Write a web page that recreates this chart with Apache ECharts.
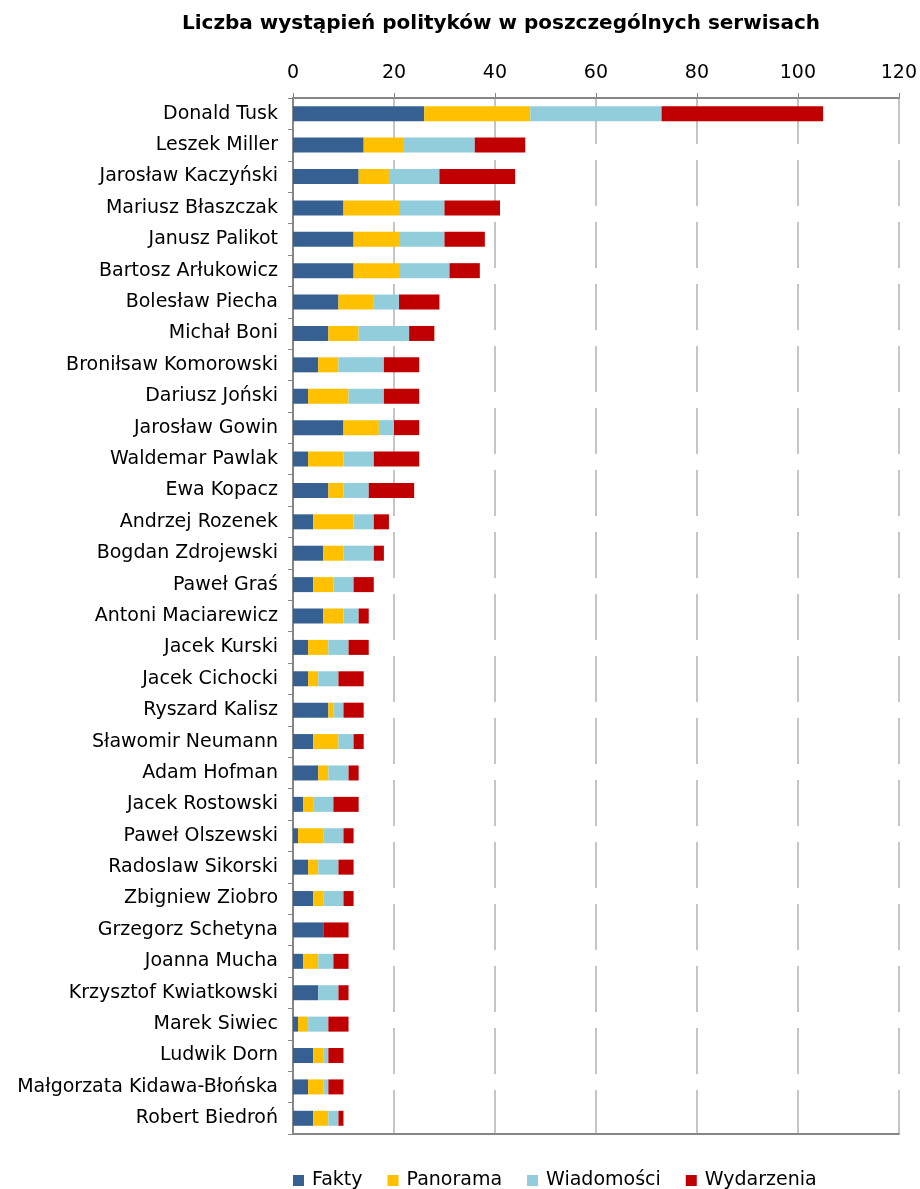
<!DOCTYPE html>
<html>
<head>
<meta charset="utf-8">
<script src="https://cdn.jsdelivr.net/npm/echarts@6/dist/echarts.min.js"></script>
<style>
html,body{margin:0;padding:0;background:#fff;}
#chart{width:920px;height:1189px;}
</style>
</head>
<body>
<div id="chart"></div>
<script>
// politycy, od najczęściej pokazywanego
var politycy=['Donald Tusk','Leszek Miller','Jarosław Kaczyński','Mariusz Błaszczak','Janusz Palikot',
	'Bartosz Arłukowicz','Bolesław Piecha','Michał Boni','Broniłsaw Komorowski','Dariusz Joński',
	'Jarosław Gowin','Waldemar Pawlak','Ewa Kopacz','Andrzej Rozenek','Bogdan Zdrojewski',
	'Paweł Graś','Antoni Maciarewicz','Jacek Kurski','Jacek Cichocki','Ryszard Kalisz',
	'Sławomir Neumann','Adam Hofman','Jacek Rostowski','Paweł Olszewski','Radoslaw Sikorski',
	'Zbigniew Ziobro','Grzegorz Schetyna','Joanna Mucha','Krzysztof Kwiatkowski','Marek Siwiec',
	'Ludwik Dorn','Małgorzata Kidawa-Błońska','Robert Biedroń'];
var fakty=[26,14,13,10,12,12,9,7,5,3,10,3,7,4,6,4,6,3,3,7,4,5,2,1,3,4,6,2,5,1,4,3,4];
var panorama=[21,8,6,11,9,9,7,6,4,8,7,7,3,8,4,4,4,4,2,1,5,2,2,5,2,2,0,3,0,2,2,3,3];
var wiadomosci=[26,14,10,9,9,10,5,10,9,7,3,6,5,4,6,4,3,4,4,2,3,4,4,4,4,4,0,3,4,4,1,1,2];
var wydarzenia=[32,10,15,11,8,6,8,5,7,7,5,9,9,3,2,4,2,4,5,4,2,2,5,2,3,2,5,3,2,4,3,3,1];
var xTicks=[0,20,40,60,80,100,120];

var kolory=['#376092','#FFC000','#92CDDC','#C00000'];
var nazwy=['Fakty','Panorama','Wiadomości','Wydarzenia'];
var dane=[fakty,panorama,wiadomosci,wydarzenia];

var chart=echarts.init(document.getElementById('chart'));
var seriesData=[];
for(var i=0;i<dane.length;i++){
	seriesData.push({
		name:nazwy[i],
		type:'bar',
		stack:'suma',
		barWidth:15,
		itemStyle:{color:kolory[i]},
		data:dane[i]
	});
}
var font='DejaVu Sans';
var option={
	animation:false,
	color:kolory,
	title:{
		text:'Liczba wystąpień polityków w poszczególnych serwisach',
		left:496,
		textAlign:'center',
		top:9,
		textStyle:{fontFamily:font,fontSize:20,fontWeight:'bold',color:'#000'}
	},
	legend:{
		data:nazwy,
		top:1166,
		left:288,
		itemWidth:11,
		itemHeight:11,
		itemGap:25,
		icon:'rect',
		textStyle:{fontFamily:font,fontSize:19,color:'#000',padding:[0,0,0,3]}
	},
	grid:{left:293,right:18,top:98,bottom:55,containLabel:false},
	xAxis:[{
		type:'value',
		position:'top',
		min:xTicks[0],
		max:xTicks[xTicks.length-1],
		interval:20,
		axisLine:{show:true,lineStyle:{color:'#868686',width:2}},
		axisTick:{show:true,length:5,lineStyle:{color:'#868686'}},
		axisLabel:{fontFamily:font,fontSize:19,color:'#000',margin:15},
		splitLine:{show:true,lineStyle:{color:'#b3b3b3',width:1.5,type:[46,16]}}
	},{
		type:'value',
		position:'bottom',
		min:xTicks[0],
		max:xTicks[xTicks.length-1],
		interval:20,
		axisLine:{show:true,lineStyle:{color:'#868686',width:2}},
		axisTick:{show:false},
		axisLabel:{show:false},
		splitLine:{show:false}
	}],
	yAxis:{
		type:'category',
		inverse:true,
		data:politycy,
		axisLine:{show:true,lineStyle:{color:'#868686',width:2}},
		axisTick:{show:true,length:5,lineStyle:{color:'#868686'}},
		axisLabel:{fontFamily:font,fontSize:19,color:'#000',margin:15}
	},
	series:seriesData
};
chart.setOption(option);
</script>
</body>
</html>
